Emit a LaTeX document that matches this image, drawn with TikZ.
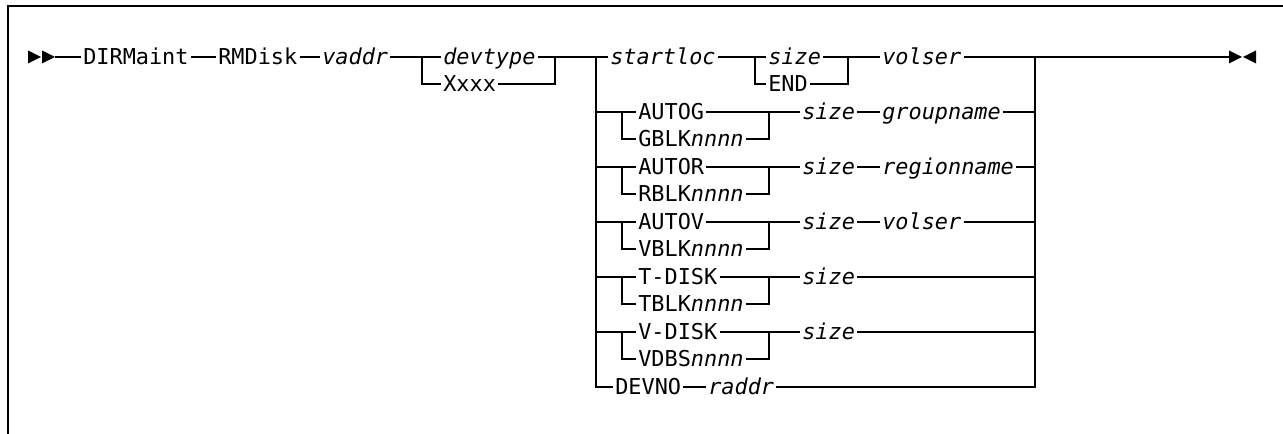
\documentclass[tikz,border=0pt]{standalone}
\usepackage{fontspec}
\setmainfont{DejaVu Sans Mono}
\usepackage{tikz}
\usetikzlibrary{positioning,calc}
\tikzset{
  kw/.style={anchor=west, inner xsep=1.5pt, inner ysep=0pt,
             text height=14.9pt, text depth=3pt,
             font=\fontsize{16.4}{18}\selectfont},
  var/.style={kw, font=\fontsize{16.4}{18}\selectfont\itshape},
  rail/.style={line width=0.9pt},
  frame/.style={line width=1.5pt},
}

\begin{document}
\begin{tikzpicture}[x=0.75pt, y=-0.75pt]
  \useasboundingbox (0,0) rectangle (1283,434);
  \draw[frame] (8,434) -- (8,6) -- (1283,6);

  % spine
  \coordinate (begin)  at (55,57);
  \coordinate (finish) at (1229,57);
  \coordinate (ja) at (422,57);
  \coordinate (jb) at (555,57);
  \coordinate (spL) at (596,57);
  \coordinate (jc) at (755,57);
  \coordinate (jd) at (848,57);
  \coordinate (spR) at (1035,57);
  \coordinate (nL) at (622,0);
  \coordinate (nR) at (769,0);

  \node[kw]  (dirmaint) at (81,57)  {DIRMaint};
  \node[kw]  (rmdisk)   at (216,57) {RMDisk};
  \node[var] (vaddr)    at (320,57) {vaddr};
  \node[var] (devtype)  at (441,57) {devtype};
  \node[kw]  (xxxx)     at (441,84) {Xxxx};
  \node[var] (startloc) at (608,57) {startloc};
  \node[var] (sizeA)    at (766,57) {size};
  \node[kw]  (endkw)    at (766,84) {END};
  \node[var] (volserA)  at (880,57) {volser};

  % block choices
  \node[kw]  (autog)  at (636,112) {AUTOG};
  \node[kw]  (gblk)   at (636,139) {GBLK\textit{nnnn}};
  \node[var] (sizeG)  at (800,112) {size};
  \node[var] (groupname) at (880,112) {groupname};

  \node[kw]  (autor)  at (636,167) {AUTOR};
  \node[kw]  (rblk)   at (636,194) {RBLK\textit{nnnn}};
  \node[var] (sizeR)  at (800,167) {size};
  \node[var] (regionname) at (880,167) {regionname};

  \node[kw]  (autov)  at (636,222) {AUTOV};
  \node[kw]  (vblk)   at (636,249) {VBLK\textit{nnnn}};
  \node[var] (sizeV)  at (800,222) {size};
  \node[var] (volserV) at (880,222) {volser};

  \node[kw]  (tdisk)  at (636,277) {T-DISK};
  \node[kw]  (tblk)   at (636,304) {TBLK\textit{nnnn}};
  \node[var] (sizeT)  at (800,277) {size};

  \node[kw]  (vdisk)  at (636,332) {V-DISK};
  \node[kw]  (vdbs)   at (636,359) {VDBS\textit{nnnn}};
  \node[var] (sizeD)  at (800,332) {size};

  \node[kw]  (devno)  at (613,387) {DEVNO};
  \node[var] (raddr)  at (706,387) {raddr};

  % start and end marks
  \fill (begin) ++(-27,-6.5) -- ++(13,6.5) -- ++(-13,6.5) -- cycle;
  \fill (begin) ++(-13,-6.5) -- ++(13,6.5) -- ++(-13,6.5) -- cycle;
  \fill (finish) ++(0,-6.5) -- ++(13,6.5) -- ++(-13,6.5) -- cycle;
  \fill (finish) ++(27,-6.5) -- ++(-13,6.5) -- ++(13,6.5) -- cycle;

  % main line
  \draw[rail] (begin) -- (dirmaint) -- (rmdisk) -- (vaddr) -- (devtype);
  \draw[rail] (ja) |- (xxxx);
  \draw[rail] (xxxx) -| (jb);
  \draw[rail] (devtype) -- (startloc) -- (sizeA);
  \draw[rail] (jc) |- (endkw);
  \draw[rail] (endkw) -| (jd);
  \draw[rail] (sizeA) -- (volserA) -- (finish);
  \draw[rail] (spL) |- (devno);
  \draw[rail] (spR) |- (raddr);
  \draw[rail] (devno) -- (raddr);

  \draw[rail] (spL |- autog) -- (autog) -- (sizeG) -- (groupname) -- (spR |- groupname);
  \draw[rail] (nL |- autog) |- (gblk);
  \draw[rail] (gblk) -| (nR |- autog);

  \draw[rail] (spL |- autor) -- (autor) -- (sizeR) -- (regionname) -- (spR |- regionname);
  \draw[rail] (nL |- autor) |- (rblk);
  \draw[rail] (rblk) -| (nR |- autor);

  \draw[rail] (spL |- autov) -- (autov) -- (sizeV) -- (volserV) -- (spR |- volserV);
  \draw[rail] (nL |- autov) |- (vblk);
  \draw[rail] (vblk) -| (nR |- autov);

  \draw[rail] (spL |- tdisk) -- (tdisk) -- (sizeT) -- (spR |- sizeT);
  \draw[rail] (nL |- tdisk) |- (tblk);
  \draw[rail] (tblk) -| (nR |- tdisk);

  \draw[rail] (spL |- vdisk) -- (vdisk) -- (sizeD) -- (spR |- sizeD);
  \draw[rail] (nL |- vdisk) |- (vdbs);
  \draw[rail] (vdbs) -| (nR |- vdisk);
\end{tikzpicture}
\end{document}
